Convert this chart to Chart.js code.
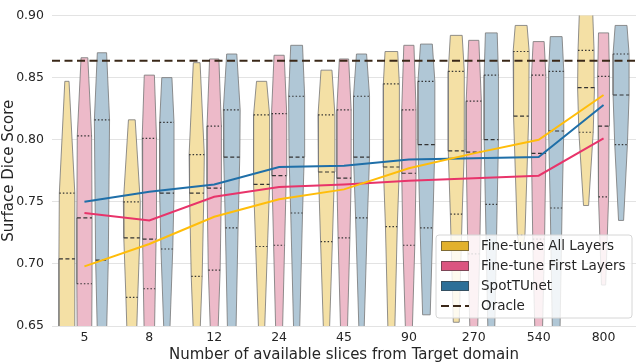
<!DOCTYPE html>
<html>
<head>
<meta charset="utf-8">
<script src="https://cdn.jsdelivr.net/npm/chart.js@4.4.1/dist/chart.umd.min.js"></script>
<style>
  html, body { margin: 0; padding: 0; background: #fff; }
  #wrap { width: 640px; height: 364px; }
</style>
</head>
<body>
<div id="wrap"><canvas id="grafico" width="640" height="364"></canvas></div>
<script>
// categorias do eixo x
const categories = ['5', '8', '12', '24', '45', '90', '270', '540', '800']
const yTicks = [0.65, 0.70, 0.75, 0.80, 0.85, 0.90]

// medias (linhas)
const meanAll = [0.698, 0.716, 0.738, 0.752, 0.760, 0.777, 0.789, 0.800, 0.836]
const meanFirst = [0.741, 0.735, 0.754, 0.762, 0.764, 0.767, 0.769, 0.771, 0.801]
const meanSpot = [0.750, 0.758, 0.764, 0.778, 0.779, 0.784, 0.785, 0.786, 0.828]
const oracle = 0.8635

// violinos: [max, q3, mediana, q1, min]
const allStats = [
  [0.847, 0.757, 0.704, 0.640, 0.600],
  [0.816, 0.750, 0.721, 0.673, 0.640],
  [0.862, 0.788, 0.757, 0.690, 0.645],
  [0.847, 0.820, 0.764, 0.714, 0.645],
  [0.856, 0.820, 0.774, 0.718, 0.645],
  [0.871, 0.845, 0.778, 0.730, 0.645],
  [0.884, 0.855, 0.791, 0.740, 0.653],
  [0.892, 0.871, 0.819, 0.723, 0.715],
  [0.910, 0.872, 0.842, 0.806, 0.747]
]
const firstStats = [
  [0.866, 0.803, 0.737, 0.684, 0.630],
  [0.852, 0.801, 0.720, 0.680, 0.640],
  [0.865, 0.811, 0.761, 0.695, 0.645],
  [0.868, 0.821, 0.771, 0.715, 0.645],
  [0.865, 0.824, 0.769, 0.721, 0.645],
  [0.876, 0.824, 0.773, 0.715, 0.645],
  [0.880, 0.831, 0.790, 0.708, 0.645],
  [0.879, 0.852, 0.789, 0.720, 0.645],
  [0.886, 0.851, 0.811, 0.754, 0.683]
]
const spotStats = [
  [0.870, 0.816, 0.703, 0.645, 0.620],
  [0.850, 0.814, 0.757, 0.712, 0.645],
  [0.869, 0.824, 0.786, 0.729, 0.645],
  [0.876, 0.835, 0.786, 0.741, 0.645],
  [0.869, 0.835, 0.786, 0.737, 0.645],
  [0.877, 0.847, 0.796, 0.729, 0.659],
  [0.886, 0.852, 0.800, 0.748, 0.645],
  [0.883, 0.855, 0.807, 0.745, 0.645],
  [0.892, 0.869, 0.836, 0.796, 0.735]
]

// densidade relativa em cada nivel acima
const allDens = [
  [0.25, 0.9, 0.95, 0.95, 0.95],
  [0.4, 1.0, 0.95, 0.7, 0.55],
  [0.4, 0.9, 0.85, 0.65, 0.4],
  [0.6, 0.95, 0.95, 0.7, 0.35],
  [0.65, 1.0, 0.95, 0.7, 0.35],
  [0.75, 0.95, 0.95, 0.7, 0.4],
  [0.7, 0.95, 0.95, 0.7, 0.35],
  [0.7, 0.95, 0.9, 0.45, 0.25],
  [0.75, 0.95, 1.0, 0.85, 0.3]
]
const firstDens = [
  [0.4, 0.85, 0.9, 0.9, 0.85],
  [0.6, 0.85, 0.8, 0.7, 0.6],
  [0.55, 0.85, 0.85, 0.7, 0.45],
  [0.6, 0.9, 0.85, 0.65, 0.4],
  [0.55, 0.85, 0.85, 0.7, 0.4],
  [0.6, 0.85, 0.85, 0.7, 0.4],
  [0.6, 0.9, 0.9, 0.7, 0.45],
  [0.65, 0.85, 0.85, 0.7, 0.45],
  [0.6, 0.7, 0.65, 0.6, 0.25]
]
const spotDens = [
  [0.55, 0.9, 0.75, 0.55, 0.45],
  [0.6, 0.85, 0.85, 0.7, 0.35],
  [0.6, 1.0, 0.95, 0.75, 0.5],
  [0.7, 0.95, 0.9, 0.7, 0.35],
  [0.6, 0.95, 0.95, 0.7, 0.3],
  [0.7, 1.0, 1.0, 0.75, 0.45],
  [0.7, 0.85, 0.85, 0.7, 0.4],
  [0.7, 0.9, 0.9, 0.7, 0.45],
  [0.7, 0.95, 0.95, 0.75, 0.3]
]

const larg = 0.13 // meia largura maxima do violino (em categorias)
const fonte = 'DejaVu Sans'

const metodos = [
  { label: 'Fine-tune All Layers', stats: allStats, dens: allDens, off: -0.27,
    violino: 'rgb(244,224,165)', linha: '#ffbd0a', patch: '#e2b12c', mean: meanAll },
  { label: 'Fine-tune First Layers', stats: firstStats, dens: firstDens, off: 0,
    violino: 'rgb(237,186,201)', linha: '#e8346a', patch: '#db5580', mean: meanFirst },
  { label: 'SpotTUnet', stats: spotStats, dens: spotDens, off: 0.27,
    violino: 'rgb(176,199,214)', linha: '#1f6fa8', patch: '#2c6f98', mean: meanSpot }
]

function violinPoints(i, off, st, de) {
  const x = i + off
  const esq = [], dir = []
  st.forEach((v, k) => {
    esq.push({ x: x - de[k] * larg, y: v })
    dir.push({ x: x + de[k] * larg, y: v })
  })
  return esq.concat(dir.reverse(), [esq[0]])
}

const datasets = []

// linha do oracle
datasets.push({
  data: [{ x: -0.5, y: oracle }, { x: 8.5, y: oracle }],
  borderColor: '#3a2818', borderWidth: 2, borderDash: [8, 4.5], order: 0
})

metodos.forEach(m => {
  datasets.push({
    data: m.mean.map((v, i) => ({ x: i, y: v })),
    borderColor: m.linha, borderWidth: 2, order: 1
  })
  m.stats.forEach((st, i) => {
    const de = m.dens[i]
    datasets.push({
      data: violinPoints(i, m.off, st, de),
      backgroundColor: m.violino, borderColor: 'rgba(125,125,125,0.85)',
      borderWidth: 1, fill: 'shape', order: 3
    })
    // quartis e mediana
    ;[1, 2, 3].forEach(k => {
      const x = i + m.off
      datasets.push({
        data: [{ x: x - de[k] * larg, y: st[k] }, { x: x + de[k] * larg, y: st[k] }],
        borderColor: '#333', borderWidth: 1.2,
        borderDash: k === 2 ? [4, 2.5] : [1.5, 2], order: 2
      })
    })
  })
})

const legendaPlugin = {
  id: 'legenda',
  afterDatasetsDraw(chart) {
    const ctx = chart.ctx
    const area = chart.chartArea
    const w = 196, h = 83
    const x0 = area.right - w - 4
    const y0 = area.bottom - h - 8
    ctx.save()
    ctx.beginPath()
    ctx.roundRect(x0, y0, w, h, 3)
    ctx.fillStyle = 'rgba(255,255,255,0.82)'
    ctx.fill()
    ctx.strokeStyle = '#d6d6d6'
    ctx.lineWidth = 1
    ctx.stroke()
    ctx.font = '13.5px "' + fonte + '"'
    ctx.textBaseline = 'middle'
    ctx.textAlign = 'left'
    metodos.forEach((m, k) => {
      const yc = y0 + 11 + 20 * k
      ctx.fillStyle = m.patch
      ctx.fillRect(x0 + 5, yc - 5, 28, 10)
      ctx.strokeStyle = 'rgba(60,60,60,0.6)'
      ctx.strokeRect(x0 + 5.5, yc - 4.5, 27, 9)
      ctx.fillStyle = '#262626'
      ctx.fillText(m.label, x0 + 45, yc)
    })
    const yo = y0 + 11 + 60
    ctx.beginPath()
    ctx.setLineDash([8, 4])
    ctx.strokeStyle = '#3a2818'
    ctx.lineWidth = 2
    ctx.moveTo(x0 + 5, yo)
    ctx.lineTo(x0 + 33, yo)
    ctx.stroke()
    ctx.setLineDash([])
    ctx.fillStyle = '#262626'
    ctx.fillText('Oracle', x0 + 45, yo)
    ctx.restore()
  }
}

const grafico = new Chart(document.getElementById('grafico'), {
  type: 'line',
  data: { datasets: datasets },
  plugins: [legendaPlugin],
  options: {
    responsive: false,
    animation: false,
    devicePixelRatio: 1,
    layout: { padding: { top: 5, right: 4, left: 0, bottom: 0 } },
    elements: { point: { radius: 0 }, line: { tension: 0 } },
    plugins: { legend: { display: false }, tooltip: { enabled: false } },
    scales: {
      x: {
        type: 'linear', min: -0.5, max: 8.5,
        afterBuildTicks: s => { s.ticks = categories.map((c, i) => ({ value: i })) },
        afterFit: s => { s.height = 38 },
        grid: { display: false, drawTicks: false },
        border: { display: false },
        ticks: { callback: v => categories[v], padding: 4, color: '#262626',
          font: { family: fonte, size: 12.5 }, maxRotation: 0 },
        title: { display: true, text: 'Number of available slices from Target domain',
          color: '#262626', font: { family: fonte, size: 15 }, padding: { top: 0, bottom: 0 } }
      },
      y: {
        type: 'linear', min: 0.65, max: 0.90,
        afterBuildTicks: s => { s.ticks = yTicks.map(v => ({ value: v })) },
        afterFit: s => { s.width = 52 },
        grid: { color: '#e3e3e3', lineWidth: 1, drawTicks: false },
        border: { display: false },
        ticks: { callback: v => v.toFixed(2), padding: 8, color: '#262626',
          font: { family: fonte, size: 12.5 } },
        title: { display: true, text: 'Surface Dice Score', color: '#262626',
          font: { family: fonte, size: 15 }, padding: { top: 0, bottom: 0 } }
      }
    }
  }
})
</script>
</body>
</html>
